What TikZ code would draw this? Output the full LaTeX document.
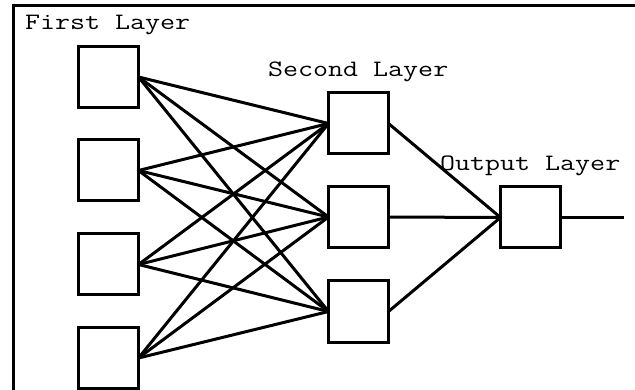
\documentclass[tikz,border=0pt]{standalone}
\usepackage{fontspec}
\newfontfamily\labelfont[FakeStretch=1.24]{Latin Modern Mono}
\begin{document}
\begin{tikzpicture}[x=1pt,y=-1pt,
  unit/.style={draw, line width=3pt, fill=white, minimum width=60pt, minimum height=61pt, inner sep=0pt, outer sep=0pt},
  link/.style={line width=3pt},
  layerlabel/.style={anchor=base west, inner sep=0pt, font=\fontsize{23.5}{25}\selectfont\labelfont}]
\useasboundingbox (0,0) rectangle (635,390);
% frame
\draw[line width=3pt] (13,390) -- (13,6) -- (635,6);
% first layer
\node[unit] (a1) at (108.5,77) {};
\node[unit] (a2) at (108.5,170.5) {};
\node[unit] (a3) at (108.5,264.5) {};
\node[unit] (a4) at (108.5,358) {};
% second layer
\node[unit] (b1) at (358.5,123.5) {};
\node[unit] (b2) at (358.5,217) {};
\node[unit] (b3) at (358.5,311.5) {};
% output layer
\node[unit] (c1) at (530.5,217.5) {};
\coordinate (out) at (624,217.5);
% connections
\foreach \i in {1,...,4}{
  \foreach \j in {1,2,3}{
    \draw[link] (a\i.east) -- (b\j.west);
  }
}
\foreach \j in {1,2,3}{
  \draw[link] (b\j.east) -- (c1.west);
}
\draw[link] (c1.east) -- (out);
% redraw boxes above lines
\foreach \n in {a1,a2,a3,a4,b1,b2,b3,c1}{
  \node[unit] at (\n) {};
}
% labels
\node[layerlabel] (l1) at (25,30) {First Layer};
\node[layerlabel] (l2) at (268,77) {Second Layer};
\node[layerlabel] (l3) at (440,171) {Output Layer};
\end{tikzpicture}
\end{document}
